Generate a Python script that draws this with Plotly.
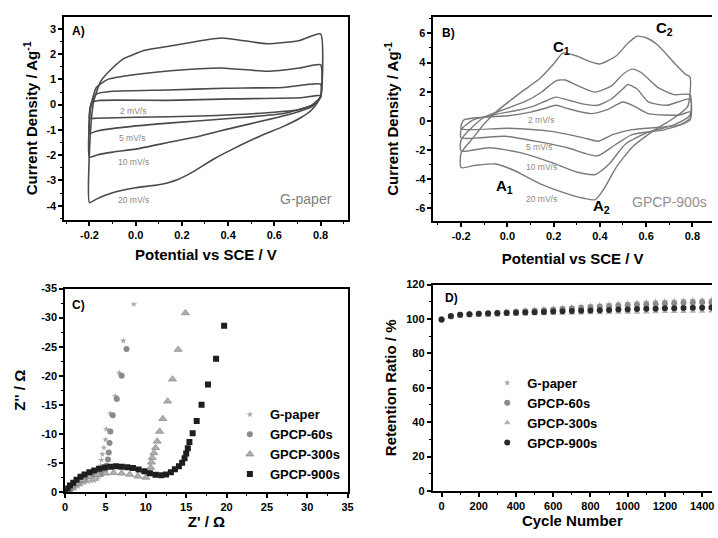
import plotly.graph_objects as go

# ---------------- Panel A : G-paper CV ----------------
A2_E = [-0.20, -0.19, -0.15, 0.14, 0.42, 0.71, 0.80, 0.78, 0.71, 0.57, 0.28, 0.00, -0.17, -0.20]
A2_I = [-0.54, 0.10, 0.17, 0.17, 0.23, 0.27, 0.36, 0.04, -0.19, -0.32, -0.45, -0.50, -0.54, -0.54]
A5_E = [-0.20, -0.195, -0.17, -0.10, 0.14, 0.38, 0.64, 0.80, 0.80, 0.76, 0.64, 0.42, 0.14, -0.08, -0.17, -0.20]
A5_I = [-1.14, -0.10, 0.42, 0.53, 0.58, 0.65, 0.68, 0.81, 0.30, -0.03, -0.35, -0.54, -0.73, -0.92, -1.05, -1.14]
A10_E = [-0.20, -0.195, -0.17, -0.12, 0.00, 0.21, 0.37, 0.57, 0.71, 0.80, 0.80, 0.76, 0.68, 0.57, 0.42, 0.28, 0.14, 0.00, -0.10, -0.17, -0.20]
A10_I = [-2.08, -0.10, 0.68, 1.00, 1.19, 1.38, 1.45, 1.32, 1.45, 1.58, 0.30, -0.09, -0.35, -0.60, -0.92, -1.24, -1.50, -1.76, -1.88, -2.00, -2.08]
A20_E = [-0.20, -0.195, -0.18, -0.15, -0.10, -0.05, 0.04, 0.17, 0.37, 0.57, 0.71, 0.80, 0.80, 0.76, 0.71, 0.64, 0.54, 0.42, 0.34, 0.25, 0.18, 0.10, 0.00, -0.10, -0.17, -0.20]
A20_I = [-3.88, -1.00, 0.20, 0.94, 1.45, 1.83, 2.15, 2.35, 2.64, 2.41, 2.54, 2.80, 0.30, -0.22, -0.54, -0.86, -1.24, -1.76, -2.14, -2.65, -2.97, -3.17, -3.29, -3.49, -3.74, -3.88]

# ---------------- Panel B : GPCP-900s CV ----------------
B2_E = [-0.20, -0.19, -0.10, 0.00, 0.10, 0.16, 0.21, 0.26, 0.36, 0.43, 0.50, 0.55, 0.61, 0.745, 0.79, 0.79, 0.745, 0.54, 0.455, 0.393, 0.33, 0.19, 0.00, -0.20]
B2_I = [-0.54, 0.05, 0.25, 0.35, 0.60, 0.85, 1.07, 0.85, 0.50, 0.75, 1.30, 1.00, 0.50, 0.40, 0.63, 0.18, -0.27, -0.60, -0.94, -1.39, -1.16, -0.72, -0.50, -0.54]
B5_E = [-0.20, -0.20, -0.15, -0.05, 0.05, 0.12, 0.17, 0.21, 0.27, 0.33, 0.39, 0.45, 0.50, 0.52, 0.56, 0.61, 0.69, 0.79, 0.79, 0.68, 0.54, 0.47, 0.39, 0.33, 0.26, 0.12, -0.01, -0.20]
B5_I = [-1.16, -0.60, 0.05, 0.45, 0.75, 1.05, 1.40, 1.63, 1.40, 1.15, 1.07, 1.50, 2.20, 2.49, 2.20, 1.30, 1.07, 1.50, 0.07, -0.60, -0.94, -1.60, -2.40, -2.20, -1.84, -1.39, -1.05, -1.16]
B10_E = [-0.20, -0.20, -0.15, -0.10, -0.02, 0.08, 0.15, 0.21, 0.25, 0.30, 0.38, 0.45, 0.50, 0.54, 0.58, 0.65, 0.72, 0.79, 0.79, 0.72, 0.60, 0.51, 0.44, 0.38, 0.30, 0.19, 0.055, -0.08, -0.20]
B10_I = [-2.06, -1.30, -0.40, 0.25, 0.75, 1.35, 2.00, 2.75, 2.80, 2.45, 1.97, 2.40, 3.20, 3.55, 3.30, 2.30, 1.80, 1.80, 0.40, -0.27, -0.83, -1.60, -2.96, -3.67, -3.50, -2.84, -2.17, -1.84, -2.06]
B20_E = [-0.20, -0.20, -0.15, -0.10, -0.05, 0.05, 0.14, 0.20, 0.24, 0.30, 0.35, 0.40, 0.47, 0.52, 0.56, 0.60, 0.65, 0.72, 0.77, 0.79, 0.78, 0.72, 0.63, 0.54, 0.47, 0.42, 0.38, 0.33, 0.28, 0.14, 0.03, -0.05, -0.14, -0.20]
B20_I = [-3.20, -2.20, -1.20, -0.20, 0.60, 1.85, 2.90, 3.90, 4.65, 4.45, 4.10, 3.90, 4.45, 5.30, 5.80, 5.70, 5.20, 4.00, 3.20, 3.00, 1.00, 0.20, -0.70, -1.80, -3.20, -4.60, -5.40, -5.30, -5.10, -4.30, -3.40, -2.95, -3.05, -3.20]

# ---------------- Panel C : Nyquist ----------------
C_series = ["G-paper", "GPCP-60s", "GPCP-300s", "GPCP-900s"]
Cg_x = [0.8, 1.2, 1.6, 2.0, 2.4, 2.8, 3.2, 3.6, 4.0, 4.2, 4.3, 4.4, 4.5, 4.6, 4.8, 5.0, 5.1, 5.6, 6.2, 6.7, 7.2, 8.5]
Cg_y = [-0.2, -0.6, -1.0, -1.3, -1.6, -1.8, -1.9, -2.0, -2.2, -2.8, -3.6, -4.5, -5.5, -6.5, -7.6, -9.0, -10.8, -13.5, -16.5, -20.5, -26.0, -32.3]
C60_x = [0.5, 1.0, 1.5, 2.0, 2.5, 3.0, 3.5, 4.0, 4.5, 4.9, 5.1, 5.3, 5.4, 5.5, 5.6, 5.9, 6.4, 7.0, 7.6]
C60_y = [-0.3, -0.9, -1.5, -2.0, -2.4, -2.7, -2.9, -3.0, -3.1, -3.6, -4.5, -5.6, -6.8, -8.4, -10.4, -13.2, -16.0, -20.0, -24.6]
C300_x = [0.3, 0.8, 1.5, 2.2, 3.0, 4.0, 5.0, 6.0, 7.0, 8.0, 9.0, 10.0, 10.4, 10.6, 10.7, 10.8, 11.0, 11.2, 11.4, 11.7, 12.1, 12.7, 13.3, 14.0, 14.9]
C300_y = [-0.2, -0.8, -1.5, -2.1, -2.6, -3.0, -3.2, -3.3, -3.2, -3.0, -2.7, -2.5, -3.3, -4.2, -5.1, -5.9, -6.7, -7.6, -8.7, -10.4, -12.6, -15.6, -19.4, -24.5, -30.8]
C900_x = [0.0, 0.3, 0.6, 1.0, 1.4, 1.9, 2.4, 3.0, 3.6, 4.2, 4.9, 5.6, 6.3, 7.0, 7.7, 8.4, 9.1, 9.8, 10.5, 11.2, 11.9, 12.5, 13.1, 13.6, 14.1, 14.5, 14.8, 15.0, 15.2, 15.4, 15.8, 16.3, 16.9, 17.7, 18.7, 19.7]
C900_y = [0.0, -0.6, -1.1, -1.6, -2.1, -2.6, -3.0, -3.4, -3.7, -4.0, -4.2, -4.35, -4.4, -4.35, -4.25, -4.1, -3.85, -3.55, -3.2, -2.95, -2.85, -3.0, -3.4, -3.9, -4.4, -5.0, -5.8, -6.6, -7.5, -8.6, -10.1, -12.2, -15.0, -18.5, -22.9, -28.6]

# ---------------- Panel D : cycling ----------------
D_cycles = [0, 50, 100, 150, 200, 250, 300, 350, 400, 450, 500, 550, 600, 650, 700, 750,
            800, 850, 900, 950, 1000, 1050, 1100, 1150, 1200, 1250, 1300, 1350, 1400, 1450]
D_g = [100, 101.5, 102.5, 103, 103.3, 103.6, 104, 104.3, 104.7, 105, 105.4, 105.8, 106.2, 106.6, 107,
       107.4, 107.8, 108.2, 108.6, 109, 109.3, 109.6, 109.9, 110.2, 110.4, 110.6, 110.8, 111, 111.1, 111.2]
D_60 = [100, 101.5, 102.3, 102.8, 103, 103.3, 103.6, 103.9, 104.2, 104.5, 104.8, 105.1, 105.4, 105.8, 106.1,
        106.4, 106.8, 107.1, 107.4, 107.7, 108, 108.3, 108.5, 108.8, 109, 109.2, 109.4, 109.6, 109.7, 109.8]
D_300 = [100, 101, 101.6, 101.9, 102, 102.2, 102.4, 102.6, 102.8, 102.9, 103.0, 103.1, 103.2, 103.3, 103.4,
         103.5, 103.6, 103.7, 103.8, 103.9, 104, 104, 104.1, 104.2, 104.3, 104.3, 104.4, 104.5, 104.5, 104.6]
D_900 = [99.5, 101.8, 102.5, 102.8, 103, 103.2, 103.4, 103.5, 103.6, 103.8, 104, 104.1, 104.3, 104.5, 104.6,
         104.8, 105, 105.1, 105.3, 105.5, 105.6, 105.8, 105.9, 106, 106.2, 106.3, 106.4, 106.5, 106.6, 106.7]

FONT = "Liberation Sans, Arial, sans-serif"
fig = go.Figure()

# A curves
for E, I in [(A2_E, A2_I), (A5_E, A5_I), (A10_E, A10_I), (A20_E, A20_I)]:
    fig.add_trace(go.Scatter(x=E, y=I, mode="lines", xaxis="x", yaxis="y", showlegend=False,
                             line=dict(color="#4a4a4a", width=1.6, shape="spline", smoothing=0.5)))
# B curves
for E, I in [(B2_E, B2_I), (B5_E, B5_I), (B10_E, B10_I), (B20_E, B20_I)]:
    fig.add_trace(go.Scatter(x=E, y=I, mode="lines", xaxis="x2", yaxis="y2", showlegend=False,
                             line=dict(color="#7a7a7a", width=1.4, shape="spline", smoothing=0.6)))

# C scatter
c_style = [
    dict(symbol="star", size=5, color="#a8a8a8"),
    dict(symbol="circle", size=6, color="#8a8a8a"),
    dict(symbol="triangle-up", size=7, color="#b0b0b0", line=dict(color="#8a8a8a", width=0.8)),
    dict(symbol="square", size=6, color="#1e1e1e"),
]
for name, xs, ys, st in zip(C_series, [Cg_x, C60_x, C300_x, C900_x], [Cg_y, C60_y, C300_y, C900_y], c_style):
    fig.add_trace(go.Scatter(x=xs, y=ys, mode="markers", name=name, xaxis="x3", yaxis="y3",
                             marker=st, legend="legend"))

# D scatter
d_style = [
    dict(symbol="star", size=5, color="#a8a8a8"),
    dict(symbol="circle", size=6, color="#8a8a8a"),
    dict(symbol="triangle-up", size=6, color="#b0b0b0"),
    dict(symbol="circle", size=6, color="#2a2a2a"),
]
for name, ys, st in zip(C_series, [D_g, D_60, D_300, D_900], d_style):
    fig.add_trace(go.Scatter(x=D_cycles, y=ys, mode="markers", name=name, xaxis="x4", yaxis="y4",
                             marker=st, legend="legend2"))

tickfont = dict(family=FONT, size=11, color="black", weight="bold")
titlefont = dict(family=FONT, size=15, color="black", weight="bold")


def ax(domain, rng, tickvals, ticktext, minor_dtick, minor_tick0, title, standoff, anchor, mirror=True):
    return dict(domain=domain, range=rng, tickmode="array", tickvals=tickvals, ticktext=ticktext,
                ticks="outside", ticklen=4, tickwidth=1.5, tickcolor="black",
                showline=True, linecolor="black", linewidth=1.8, mirror=mirror,
                showgrid=False, zeroline=False, tickfont=tickfont, anchor=anchor,
                minor=dict(tickmode="linear", tick0=minor_tick0, dtick=minor_dtick, ticks="outside",
                           ticklen=2, tickwidth=1.2, tickcolor="black", showgrid=False),
                title=dict(text=title, font=titlefont, standoff=standoff))


def fmt(v, d):
    return ("%." + str(d) + "f") % v


A_xt = [-0.2, 0.0, 0.2, 0.4, 0.6, 0.8]
A_yt = [-4, -3, -2, -1, 0, 1, 2, 3]
B_yt = [-6, -4, -2, 0, 2, 4, 6]
C_xt = [0, 5, 10, 15, 20, 25, 30, 35]
C_yt = [0, -5, -10, -15, -20, -25, -30, -35]
D_xt = [0, 200, 400, 600, 800, 1000, 1200, 1400]
D_yt = [0, 20, 40, 60, 80, 100, 120]

fig.update_layout(
    width=718, height=538, margin=dict(l=0, r=0, t=0, b=0),
    paper_bgcolor="white", plot_bgcolor="white",
    font=dict(family=FONT, color="black"),
    xaxis=ax([0.0864, 0.486], [-0.309, 0.917], A_xt, [fmt(v, 1) for v in A_xt], 0.1, -0.2,
             "Potential vs SCE / V", 9, "y"),
    yaxis=ax([0.593, 0.9796], [-4.57, 3.48], A_yt, [str(v) for v in A_yt], 0.5, -4,
             "Current Density / Ag<sup>-1</sup>", 5, "x"),
    xaxis2=ax([0.607, 1.0], [-0.32, 0.885], A_xt, [fmt(v, 1) for v in A_xt], 0.1, -0.2,
              "Potential vs SCE / V", 12, "y2"),
    yaxis2=ax([0.591, 0.9796], [-6.87, 7.14], B_yt, [str(v) for v in B_yt], 1, -6,
              "Current Density / Ag<sup>-1</sup>", 13, "x2", mirror=False),
    xaxis3=ax([0.0877, 0.486], [0, 35], C_xt, [str(v) for v in C_xt], 2.5, 0,
              "Z' / Ω", 0, "y3"),
    yaxis3=ax([0.0762, 0.4628], [0, -35], C_yt, [str(v) for v in C_yt], 2.5, 0,
              "Z'' / Ω", 12, "x3"),
    xaxis4=ax([0.606, 1.0], [-47.7, 1453], D_xt, [str(v) for v in D_xt], 100, 0,
              "Cycle Number", 0, "y4"),
    yaxis4=ax([0.078, 0.4703], [0, 120], D_yt, [str(v) for v in D_yt], 10, 0,
              "Retention Ratio / %", 6, "x4", mirror=False),
    legend=dict(x=0.32, y=0.252, xanchor="left", yanchor="top", bgcolor="rgba(0,0,0,0)",
                font=dict(family=FONT, size=13, color="black", weight="bold"), tracegroupgap=0),
    legend2=dict(x=0.683, y=0.312, xanchor="left", yanchor="top", bgcolor="rgba(0,0,0,0)",
                 font=dict(family=FONT, size=13, color="black", weight="bold"), tracegroupgap=0),
)

bold = dict(family=FONT, size=12, color="black", weight="bold")
small = dict(family=FONT, size=8.5, color="#8a8a8a")
sub = dict(family=FONT, size=15, color="black", weight="bold")
ann = [
    dict(x=-0.285, y=2.93, xref="x", yref="y", text="A)", font=bold, xanchor="left"),
    dict(x=-0.011, y=-0.24, xref="x", yref="y", text="2 mV/s", font=small),
    dict(x=-0.018, y=-1.32, xref="x", yref="y", text="5 mV/s", font=small),
    dict(x=-0.011, y=-2.29, xref="x", yref="y", text="10 mV/s", font=small),
    dict(x=-0.011, y=-3.79, xref="x", yref="y", text="20 mV/s", font=small),
    dict(x=0.738, y=-3.72, xref="x", yref="y", text="G-paper", font=dict(family=FONT, size=14, color="#808080")),
    dict(x=-0.256, y=6.0, xref="x2", yref="y2", text="B)", font=bold),
    dict(x=0.232, y=5.06, xref="x2", yref="y2", text="C<sub>1</sub>", font=sub),
    dict(x=0.68, y=6.34, xref="x2", yref="y2", text="C<sub>2</sub>", font=sub),
    dict(x=-0.012, y=-4.52, xref="x2", yref="y2", text="A<sub>1</sub>", font=sub),
    dict(x=0.407, y=-5.86, xref="x2", yref="y2", text="A<sub>2</sub>", font=sub),
    dict(x=0.146, y=0.03, xref="x2", yref="y2", text="2 mV/s", font=small),
    dict(x=0.138, y=-1.77, xref="x2", yref="y2", text="5 mV/s", font=small),
    dict(x=0.146, y=-3.18, xref="x2", yref="y2", text="10 mV/s", font=small),
    dict(x=0.146, y=-5.33, xref="x2", yref="y2", text="20 mV/s", font=small),
    dict(x=0.70, y=-5.53, xref="x2", yref="y2", text="GPCP-900s", font=dict(family=FONT, size=14, color="#909090")),
    dict(x=1.7, y=-32.2, xref="x3", yref="y3", text="C)", font=bold),
    dict(x=10, y=112, xref="x4", yref="y4", text="D)", font=bold, xanchor="left"),
]
for a in ann:
    a.setdefault("showarrow", False)
fig.update_layout(annotations=ann)

fig.write_html("out.html")
